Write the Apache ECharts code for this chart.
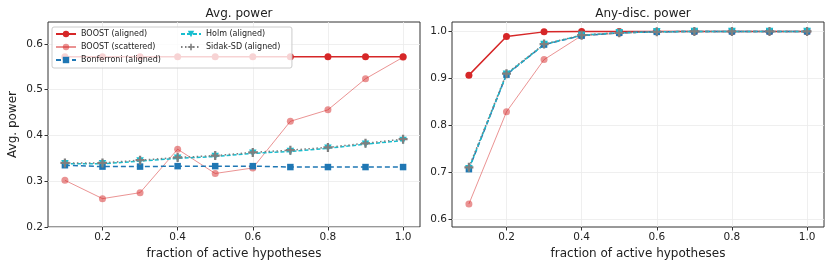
<!DOCTYPE html>
<html>
<head>
<meta charset="utf-8">
<script src="https://cdn.jsdelivr.net/npm/echarts@6/dist/echarts.min.js"></script>
<style>
  html, body { margin: 0; padding: 0; background: #fff; }
  #chart { width: 831px; height: 268px; }
</style>
</head>
<body>
<div id="chart"></div>
<script>
(function () {
  var fractions = [0.1, 0.2, 0.3, 0.4, 0.5, 0.6, 0.7, 0.8, 0.9, 1.0];
  var xTicks = [0.2, 0.4, 0.6, 0.8, 1.0];
  var avgTicks = [0.2, 0.3, 0.4, 0.5, 0.6];
  var anyTicks = [0.6, 0.7, 0.8, 0.9, 1.0];

  // Avg. power
  var avgBoostAligned = [0.572, 0.572, 0.572, 0.572, 0.572, 0.572, 0.572, 0.572, 0.572, 0.572];
  var avgBoostScattered = [0.302, 0.262, 0.275, 0.370, 0.317, 0.329, 0.431, 0.456, 0.524, 0.571];
  var avgBonferroni = [0.335, 0.332, 0.332, 0.333, 0.333, 0.333, 0.331, 0.331, 0.331, 0.331];
  var avgHolm = [0.338, 0.338, 0.344, 0.350, 0.354, 0.361, 0.365, 0.372, 0.381, 0.389];
  var avgSidak = [0.340, 0.340, 0.346, 0.352, 0.356, 0.363, 0.368, 0.374, 0.383, 0.392];

  // Any-disc. power
  var anyBoostAligned = [0.907, 0.989, 0.999, 1.0, 1.0, 1.0, 1.0, 1.0, 1.0, 1.0];
  var anyBoostScattered = [0.633, 0.829, 0.940, 0.991, 0.996, 1.0, 1.0, 1.0, 1.0, 1.0];
  var anyBonferroni = [0.707, 0.908, 0.972, 0.991, 0.997, 0.999, 1.0, 1.0, 1.0, 1.0];
  var anyHolm = [0.708, 0.909, 0.972, 0.992, 0.997, 0.999, 1.0, 1.0, 1.0, 1.0];
  var anySidak = [0.711, 0.910, 0.973, 0.992, 0.997, 0.999, 1.0, 1.0, 1.0, 1.0];

  var names = ["BOOST (aligned)", "BOOST (scattered)", "Bonferroni (aligned)", "Holm (aligned)", "Sidak-SD (aligned)"];
  var font = "DejaVu Sans";
  var plus = "path://M3,0H5V3H8V5H5V8H3V5H0V3H3Z";

  function pairs(ys) {
    return fractions.map(function (x, i) { return [x, ys[i]]; });
  }

  function fmt(v) { return v.toFixed(1); }

  function xAxis(idx) {
    return {
      type: "value", gridIndex: idx, min: 0.055, max: 1.045,
      name: "fraction of active hypotheses", nameLocation: "middle", nameGap: 21,
      nameTextStyle: { fontFamily: font, fontSize: 12, color: "#222" },
      axisLine: { show: false },
      axisTick: { show: true, length: 3.5, customValues: xTicks, lineStyle: { color: "#333" } },
      axisLabel: { customValues: xTicks, formatter: fmt, margin: 5, fontFamily: font, fontSize: 10.5, color: "#222" },
      splitLine: { show: true, lineStyle: { color: "#ebebeb", width: 0.8 } }
    };
  }

  function yAxis(idx, min, max, ticks, name) {
    return {
      type: "value", gridIndex: idx, min: min, max: max,
      name: name, nameLocation: "middle", nameGap: 29,
      nameTextStyle: { fontFamily: font, fontSize: 12, color: "#222" },
      axisLine: { show: false },
      axisTick: { show: true, length: 3.5, customValues: ticks, lineStyle: { color: "#333" } },
      axisLabel: { customValues: ticks, formatter: fmt, margin: 5, fontFamily: font, fontSize: 10.5, color: "#222" },
      splitLine: { show: true, lineStyle: { color: "#ebebeb", width: 0.8 } }
    };
  }

  function seriesFor(idx, data) {
    return [
      { name: names[0], type: "line", xAxisIndex: idx, yAxisIndex: idx, data: pairs(data[0]),
        symbol: "circle", symbolSize: 7, color: "#d62728", lineStyle: { width: 1.5 } },
      { name: names[1], type: "line", xAxisIndex: idx, yAxisIndex: idx, data: pairs(data[1]),
        symbol: "circle", symbolSize: 7, color: "rgba(214,39,40,0.5)", lineStyle: { width: 1 } },
      { name: names[2], type: "line", xAxisIndex: idx, yAxisIndex: idx, data: pairs(data[2]),
        symbol: "rect", symbolSize: 6.5, color: "#1f77b4", lineStyle: { width: 1.5, type: [5, 3] } },
      { name: names[3], type: "line", xAxisIndex: idx, yAxisIndex: idx, data: pairs(data[3]),
        symbol: "triangle", symbolRotate: 180, symbolSize: 7.5, color: "#17becf", lineStyle: { width: 1.5, type: [4, 2] } },
      { name: names[4], type: "line", xAxisIndex: idx, yAxisIndex: idx, data: pairs(data[4]),
        symbol: plus, symbolSize: 9, color: "#7f7f7f", lineStyle: { width: 1.5, type: [1.5, 2.5] } }
    ];
  }

  var legendText = { fontFamily: font, fontSize: 8, color: "#222", lineHeight: 10 };

  var option = {
    animation: false,
    backgroundColor: "#fff",
    title: [
      { text: "Avg. power", left: 234, top: 3, textAlign: "center",
        textStyle: { fontFamily: font, fontSize: 12, fontWeight: "normal", color: "#222" } },
      { text: "Any-disc. power", left: 638, top: 3, textAlign: "center",
        textStyle: { fontFamily: font, fontSize: 12, fontWeight: "normal", color: "#222" } }
    ],
    grid: [
      { left: 48, top: 22, width: 372, height: 205, show: true, borderColor: "#333", borderWidth: 1, backgroundColor: "transparent" },
      { left: 452, top: 22, width: 372, height: 205, show: true, borderColor: "#333", borderWidth: 1, backgroundColor: "transparent" }
    ],
    xAxis: [xAxis(0), xAxis(1)],
    yAxis: [
      yAxis(0, 0.2, 0.648, avgTicks, "Avg. power"),
      yAxis(1, 0.584, 1.02, anyTicks, "")
    ],
    legend: [
      { data: names.slice(0, 3), orient: "vertical", left: 52, top: 27, padding: [2, 131, 3, 3],
        backgroundColor: "rgba(255,255,255,0.8)", borderColor: "#cccccc", borderWidth: 1, borderRadius: 2,
        itemWidth: 20, itemHeight: 8, itemGap: 3, textStyle: legendText, z: 5 },
      { data: names.slice(3), orient: "vertical", left: 180, top: 29, padding: 0,
        itemWidth: 20, itemHeight: 8, itemGap: 3, textStyle: legendText, z: 6 }
    ],
    series: seriesFor(0, [avgBoostAligned, avgBoostScattered, avgBonferroni, avgHolm, avgSidak])
      .concat(seriesFor(1, [anyBoostAligned, anyBoostScattered, anyBonferroni, anyHolm, anySidak]))
  };

  var chart = echarts.init(document.getElementById("chart"));
  chart.setOption(option);
})();
</script>
</body>
</html>
